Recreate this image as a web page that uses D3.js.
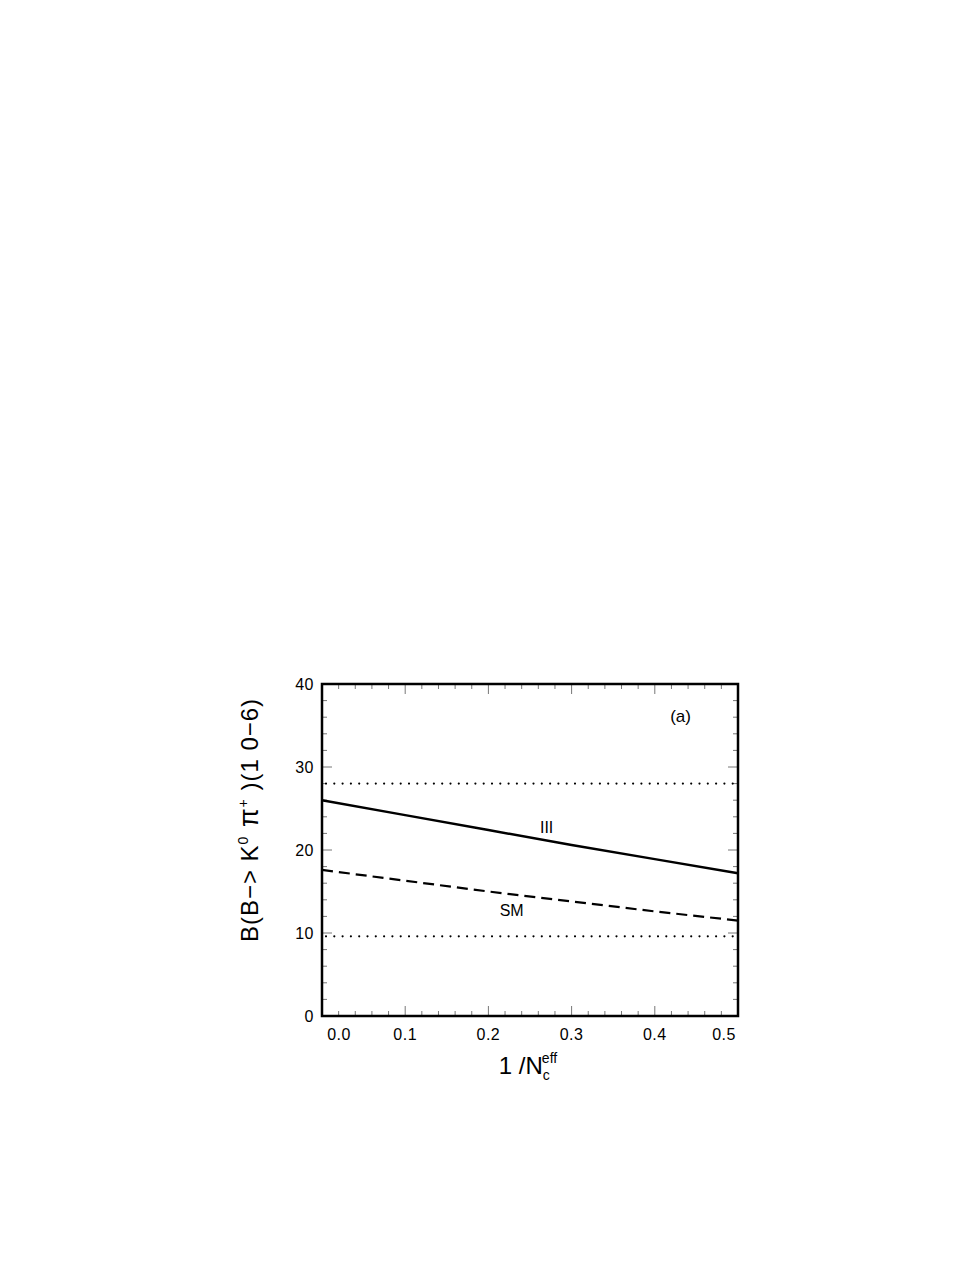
<!DOCTYPE html>
<html>
<head>
<meta charset="utf-8">
<script src="https://cdn.jsdelivr.net/npm/d3@7"></script>
<style>
  body { margin: 0; background: #fff; }
  text { font-family: "Liberation Sans", Arial, sans-serif; fill: #000; }
</style>
</head>
<body>
<div id="vis"></div>
<script>
const frame_width = 977;
const frame_height = 1264;
const margins = {left: 322, right: 239, top: 684, bottom: 248};

// data
const x_values = [0.0, 0.1, 0.2, 0.3, 0.4, 0.5];
const model_iii = [26.0, 24.2, 22.4, 20.6, 18.9, 17.2];
const model_sm = [17.6, 16.3, 15.0, 13.8, 12.6, 11.5];
const exp_bounds = [28.0, 9.6];
const x_ticks = [0.0, 0.1, 0.2, 0.3, 0.4, 0.5];
const y_ticks = [0, 10, 20, 30, 40];

const FRAME =
d3.select("#vis")
    .append("svg")
        .attr("width", frame_width)
        .attr("height", frame_height);

const x_scale = d3.scaleLinear()
    .domain([0, 0.5])
    .range([margins.left, frame_width - margins.right]);

const y_scale = d3.scaleLinear()
    .domain([0, 40])
    .range([frame_height - margins.bottom, margins.top]);

const x0 = x_scale.range()[0], x1 = x_scale.range()[1];
const y0 = y_scale.range()[0], y1 = y_scale.range()[1];

// minor + major ticks, pointing inward on all four sides
const x_minor = d3.range(0, 0.5001, 0.02);
const y_minor = d3.range(0, 40.001, 2);
const tickG = FRAME.append("g").attr("stroke", "#777").attr("stroke-width", 1);

x_minor.forEach(v => {
    const big = Math.abs(v * 10 - Math.round(v * 10)) < 1e-6;
    const len = big ? 10 : 5;
    tickG.append("line").attr("x1", x_scale(v)).attr("x2", x_scale(v))
        .attr("y1", y0).attr("y2", y0 - len);
    tickG.append("line").attr("x1", x_scale(v)).attr("x2", x_scale(v))
        .attr("y1", y1).attr("y2", y1 + len);
});
y_minor.forEach(v => {
    const big = v % 10 === 0;
    const len = big ? 10 : 5;
    tickG.append("line").attr("y1", y_scale(v)).attr("y2", y_scale(v))
        .attr("x1", x0).attr("x2", x0 + len);
    tickG.append("line").attr("y1", y_scale(v)).attr("y2", y_scale(v))
        .attr("x1", x1).attr("x2", x1 - len);
});

// frame
FRAME.append("rect")
    .attr("x", x0).attr("y", y1)
    .attr("width", x1 - x0).attr("height", y0 - y1)
    .attr("fill", "none").attr("stroke", "#000").attr("stroke-width", 2.5);

// tick labels
FRAME.selectAll(".xlab").data(x_ticks).enter().append("text")
    .attr("class", "xlab")
    .attr("x", (d, i) => x_scale(d) + (i === 0 ? 17 : (i === x_ticks.length - 1 ? -14 : 0)))
    .attr("y", y0 + 24)
    .attr("text-anchor", "middle")
    .attr("font-size", "16px")
    .attr("letter-spacing", "0.5px")
    .text(d => d.toFixed(1));

FRAME.selectAll(".ylab").data(y_ticks).enter().append("text")
    .attr("class", "ylab")
    .attr("x", x0 - 8)
    .attr("y", d => y_scale(d) + 6)
    .attr("text-anchor", "end")
    .attr("font-size", "16px")
    .attr("letter-spacing", "0.5px")
    .text(d => d);

// lines
const line = d3.line().x((d, i) => x_scale(x_values[i])).y(d => y_scale(d));

FRAME.append("path").datum(model_iii)
    .attr("d", line).attr("fill", "none")
    .attr("stroke", "#000").attr("stroke-width", 2.5);

FRAME.append("path").datum(model_sm)
    .attr("d", line).attr("fill", "none")
    .attr("stroke", "#000").attr("stroke-width", 2.2)
    .attr("stroke-dasharray", "11,6");

exp_bounds.forEach(b => {
    FRAME.append("line")
        .attr("x1", x0 + 4).attr("x2", x1)
        .attr("y1", y_scale(b)).attr("y2", y_scale(b))
        .attr("stroke", "#000").attr("stroke-width", 2.2)
        .attr("stroke-linecap", "round")
        .attr("stroke-dasharray", "0,8.3");
});

// annotations
FRAME.append("text").attr("x", x_scale(0.27)).attr("y", y_scale(22.0))
    .attr("text-anchor", "middle").attr("font-size", "16px").text("III");
FRAME.append("text").attr("x", x_scale(0.228)).attr("y", y_scale(12.1))
    .attr("text-anchor", "middle").attr("font-size", "16px").text("SM");
FRAME.append("text").attr("x", x_scale(0.431)).attr("y", y_scale(35.4))
    .attr("text-anchor", "middle").attr("font-size", "17px").text("(a)");

// axis titles
const xt = FRAME.append("text")
    .attr("x", (x0 + x1) / 2 - 2)
    .attr("y", y0 + 58)
    .attr("text-anchor", "middle")
    .attr("font-size", "24px");
xt.append("tspan").text("1 /N");
xt.append("tspan").attr("font-size", "14px").attr("dy", 6).text("c");
xt.append("tspan").attr("font-size", "14px").attr("dx", -8).attr("dy", -17).text("eff");

const yt = FRAME.append("text")
    .attr("transform", "translate(" + 258 + "," + 820 + ") rotate(-90)")
    .attr("text-anchor", "middle")
    .attr("font-size", "24px")
    .attr("letter-spacing", "1px");
yt.append("tspan").text("B(B\u2212> K");
yt.append("tspan").attr("font-size", "14px").attr("dy", -10).text("0");
yt.append("tspan").attr("dy", 10).attr("font-size", "27px").text(" \u03c0");
yt.append("tspan").attr("font-size", "14px").attr("dy", -10).text("+");
yt.append("tspan").attr("dy", 10).text(" )(1 0\u22126)");
</script>
</body>
</html>
